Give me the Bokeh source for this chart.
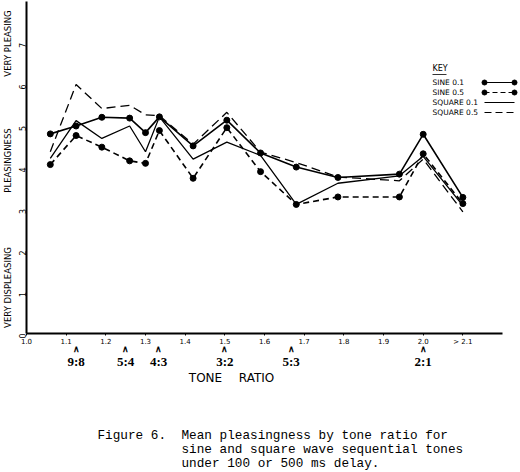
import math
from bokeh.plotting import figure
from bokeh.models import (Range1d, FixedTicker, Label, LabelSet, ColumnDataSource)
from bokeh.embed import file_html
from bokeh.resources import INLINE

# ---------------- data ----------------
tone_ratio = [1.06, 1.125, 1.19, 1.26, 1.30, 1.335, 1.42, 1.505, 1.59, 1.68, 1.785, 1.94, 2.00, 2.10]
sine_01 = [4.81, 5.00, 5.21, 5.19, 4.84, 5.22, 4.52, 5.14, 4.35, 4.01, 3.76, 3.84, 4.80, 3.28]
sine_05 = [4.07, 4.77, 4.49, 4.16, 4.10, 4.89, 3.74, 4.96, 3.90, 3.11, 3.29, 3.29, 4.33, 3.13]
square_01 = [4.22, 5.13, 4.70, 5.00, 4.38, 5.22, 4.20, 4.61, 4.29, 3.11, 3.62, 3.80, 4.27, 3.08]
square_05 = [4.38, 6.00, 5.42, 5.50, 5.27, 5.25, 4.56, 5.33, 4.37, 4.12, 3.77, 3.68, 4.20, 2.93]

x_ticks = [1.0, 1.1, 1.2, 1.3, 1.4, 1.5, 1.6, 1.7, 1.8, 1.9, 2.0, 2.1]
x_tick_labels = ["1.0", "1.1", "1.2", "1.3", "1.4", "1.5", "1.6", "1.7", "1.8", "1.9", "2.0", "> 2.1"]
y_ticks = [0, 1, 2, 3, 4, 5, 6, 7]

ratio_x = [1.125, 1.25, 1.333, 1.5, 1.667, 2.0]
ratio_names = ["9:8", "5:4", "4:3", "3:2", "5:3", "2:1"]

key_labels = ["SINE 0.1", "SINE 0.5", "SQUARE 0.1", "SQUARE 0.5"]

# ---------------- layout helpers (pixel -> data) ----------------
W, H = 520, 472
FL, FB = 26, 333                 # where x=1.0 and y=0 sit, in px
PX_PER_X = 396.7                 # px per 1.0 of tone ratio
PX_PER_Y = 41.5                  # px per 1 pleasingness unit


def px2x(px):
    return 1.0 + (px - FL) / PX_PER_X


def py2y(py):
    return (FB - py) / PX_PER_Y


p = figure(width=W, height=H, output_backend="svg", toolbar_location=None,
           x_range=Range1d(px2x(0), px2x(W)), y_range=Range1d(py2y(H), py2y(0)),
           min_border=0, min_border_left=0, min_border_right=0,
           min_border_top=0, min_border_bottom=0)
p.outline_line_color = None
p.grid.visible = False
p.background_fill_color = "white"
p.border_fill_color = "white"

TXT = "DejaVu Sans"

# axes (drawn at fixed data positions inside the frame)
xa = p.xaxis[0]
xa.fixed_location = 0
xa.ticker = FixedTicker(ticks=x_ticks)
xa.major_label_overrides = {t: l for t, l in zip(x_ticks, x_tick_labels)}
xa.bounds = (1.0, 2.2)
xa.axis_line_width = 2
xa.major_tick_out = 2
xa.major_tick_in = 0
xa.minor_tick_line_color = None
xa.major_label_text_font = TXT
xa.major_label_text_font_size = "7px"
xa.major_label_standoff = 2
xa.major_label_text_color = "black"

ya = p.yaxis[0]
ya.fixed_location = 1.0
ya.ticker = FixedTicker(ticks=y_ticks)
ya.bounds = (0, 8)
ya.axis_line_width = 2
ya.major_tick_out = 0
ya.major_tick_in = 0
ya.minor_tick_line_color = None
ya.major_label_orientation = math.pi / 2
ya.major_label_text_font = TXT
ya.major_label_text_font_size = "8px"
ya.major_label_standoff = 4
ya.major_label_text_color = "black"

# ---------------- series ----------------
p.line(tone_ratio, square_01, line_color="black", line_width=1.3)
p.line(tone_ratio, square_05, line_color="black", line_width=1.3, line_dash="9 5")
p.line(tone_ratio, sine_01, line_color="black", line_width=1.6)
p.scatter(tone_ratio, sine_01, size=6, color="black")
p.line(tone_ratio, sine_05, line_color="black", line_width=1.6, line_dash="6 4")
p.scatter(tone_ratio, sine_05, size=6, color="black")

# ---------------- key ----------------
p.add_layout(Label(x=px2x(432), y=py2y(68), text="KEY", text_font=TXT,
                   text_font_size="8px", text_baseline="middle", text_align="left",
                   text_color="black"))
p.line([px2x(432), px2x(446)], [py2y(74), py2y(74)], line_color="black", line_width=0.8)
key_rows = [82, 92, 102, 112]
key_styles = [("solid", True), ("5 3", True), ("solid", False), ("7 4", False)]
for lab, ry, (dash, dots) in zip(key_labels, key_rows, key_styles):
    p.add_layout(Label(x=px2x(432), y=py2y(ry), text=lab, text_font=TXT,
                       text_font_size="7.5px", text_baseline="middle", text_align="left",
                       text_color="black"))
    kx = [px2x(484), px2x(514)]
    ky = [py2y(ry), py2y(ry)]
    p.line(kx, ky, line_color="black", line_width=1.2, line_dash=dash)
    if dots:
        p.scatter(kx, ky, size=5, color="black")

# ---------------- y axis descriptive labels ----------------
for txt, cy in [("VERY PLEASING", 43), ("PLEASINGNESS", 160), ("VERY DISPLEASING", 287)]:
    p.add_layout(Label(x=px2x(7), y=py2y(cy), text=txt, angle=math.pi / 2,
                       text_font=TXT, text_font_size="8.5px", text_align="center",
                       text_baseline="middle", text_color="black"))

# ---------------- ratio markers ----------------
rsrc = ColumnDataSource(dict(x=ratio_x, name=ratio_names,
                             caret=["\u2227"] * len(ratio_x),
                             ya=[py2y(348)] * len(ratio_x),
                             yl=[py2y(361)] * len(ratio_x)))
p.add_layout(LabelSet(x="x", y="ya", text="caret", source=rsrc, text_align="center",
                      text_baseline="middle", text_font_size="9px", text_font=TXT,
                      text_font_style="bold", text_color="black"))
p.add_layout(LabelSet(x="x", y="yl", text="name", source=rsrc, text_align="center",
                      text_baseline="middle", text_font_size="13px", text_font=TXT,
                      text_font_style="bold", text_color="black"))

for txt, cx in [("TONE", 205), ("RATIO", 256)]:
    p.add_layout(Label(x=px2x(cx), y=py2y(377), text=txt, text_font=TXT,
                       text_font_size="12px", text_align="center", text_baseline="middle",
                       text_color="black"))

# ---------------- caption ----------------
MONO = "Liberation Mono"
p.add_layout(Label(x=px2x(97), y=py2y(435), text="Figure 6.", text_font=MONO,
                   text_font_size="12.7px", text_baseline="middle", text_color="black"))
for txt, cy in [("Mean pleasingness by tone ratio for", 435),
                ("sine and square wave sequential tones", 449),
                ("under 100 or 500 ms delay.", 463)]:
    p.add_layout(Label(x=px2x(181), y=py2y(cy), text=txt, text_font=MONO,
                       text_font_size="12.7px", text_baseline="middle", text_color="black"))

open("out.html", "w").write(file_html(p, INLINE))
